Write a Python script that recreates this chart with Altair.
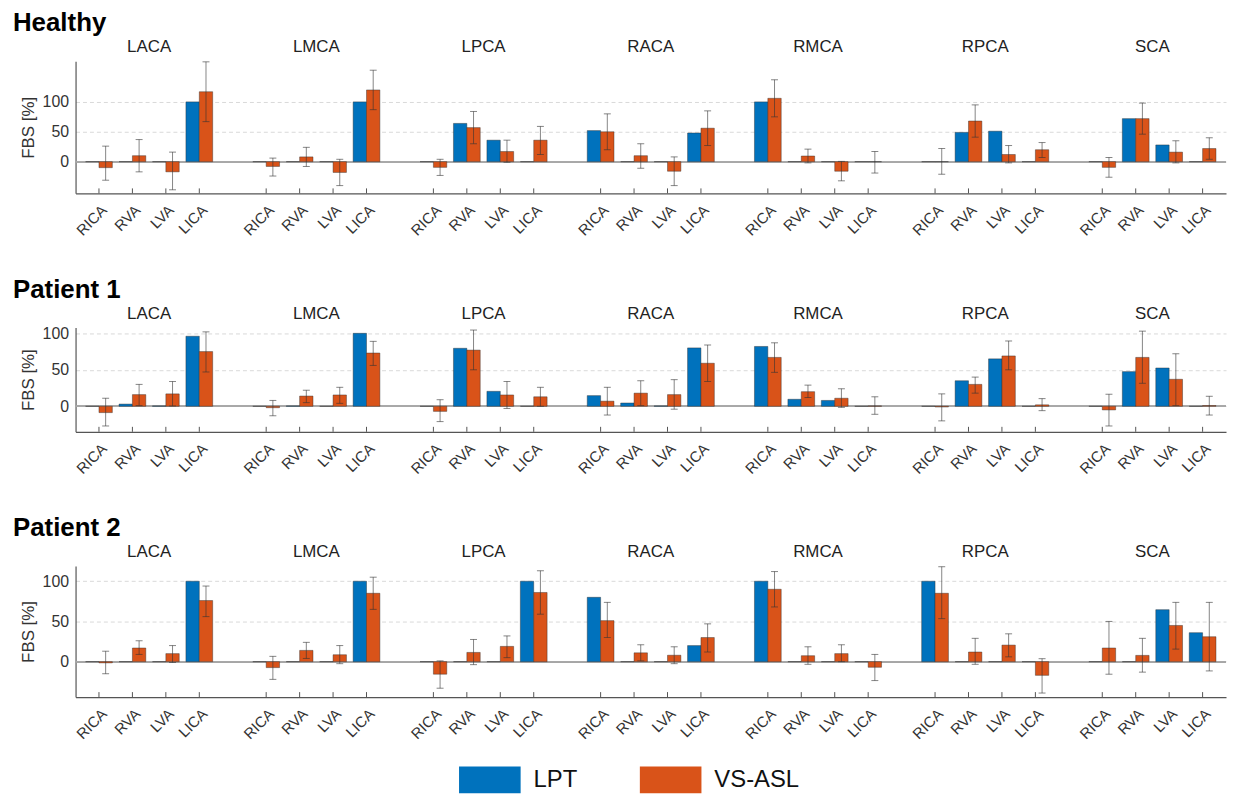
import altair as alt
import pandas as pd

territories = ["LACA", "LMCA", "LPCA", "RACA", "RMCA", "RPCA", "SCA"]
vessels = ["RICA", "RVA", "LVA", "LICA"]
series = ["LPT", "VS-ASL"]
colors = ["#0072BD", "#D95319"]

# values ordered territory by territory, vessels RICA, RVA, LVA, LICA
healthy_lpt = [0, 0, 0, 100, 0, 0, 0, 100, 0, 64, 36, 0, 52, 0, 0, 48,
               100, 0, 0, 0, 0, 49, 51, 0, 0, 72, 28, 0]
healthy_asl = [-10, 10, -17, 117, -8, 8, -18, 120, -9.5, 57, 17, 36, 50, 10, -16, 56,
               106, 9.5, -16, 0, 0, 68, 12, 20, -9.5, 72, 16, 22]
healthy_lo = [-31, -17, -47, 67, -24, -8, -40, 87, -23, 30, -1, 12, 20, -11, -40, 27,
              75, -2, -32, -19, -21, 41, -2, 7, -26, 46, -2, 4]
healthy_hi = [26, 37, 16, 167, 6, 24, 4, 153, 4, 84, 36, 59, 80, 30, 8, 85,
              137, 21, 0.5, 17, 22, 95, 27, 32, 7, 98, 35, 40]

p1_lpt = [0, 3, 0.5, 96, 0, 0.5, 0, 100, 0, 79.5, 20.5, 0, 14.6, 4.5, 0.5, 80,
          82, 9.6, 8, 0, 0, 35, 65, 0, 0, 47.5, 52.5, 0]
p1_asl = [-8.7, 16, 17, 75, -2, 14, 15.5, 73, -7, 77, 15.5, 13, 7, 18, 16, 59,
          67, 20, 11, 0.5, -1, 30, 69, 2, -5, 67, 37, 1]
p1_lo = [-27, 1, 0.5, 47, -13, 5, 4, 56, -21, 50, -3, 0, -12, 1, -4, 34,
         46.5, 12, -1.5, -11, -20, 18, 50, -6, -27, 31.5, 1, -12]
p1_hi = [11, 30, 34, 102, 8, 22, 26, 89, 9, 104.5, 34, 26, 26, 35, 36.5, 84,
         87, 29, 24, 13, 17, 40, 89.5, 10.5, 16.5, 103, 72, 13.7]

p2_lpt = [0, 0, 0, 100, 0, 0, 0, 100, 0, 0, 0, 100, 80, 0, 0, 20,
          100, 0, 0, 0, 100, 0, 0, 0, 0, 0, 64.6, 36]
p2_asl = [-1.5, 17, 10, 76, -7.4, 14, 8.6, 85, -15.6, 11.5, 19, 86, 51, 11, 8, 30,
          90, 7.4, 10, -7, 85, 12, 20.6, -17, 17, 7.8, 45, 31]
p2_lo = [-15, 9, -1, 56, -22, 4, -2.5, 65, -33, -3.7, 5, 59, 30, 1, -2.5, 12,
         68, -3.3, 0, -23.5, 53.5, -3.3, 6, -39, -15.6, -13, 15.6, -11.5]
p2_hi = [13, 26, 20, 94, 6.6, 24, 20, 105, 1, 27.6, 32, 113, 73.7, 21, 18.5, 47,
         112, 18.5, 21, 9, 118, 29, 34.6, 3.7, 50, 29, 73.7, 73.7]

rows = [
    ("Healthy", healthy_lpt, healthy_asl, healthy_lo, healthy_hi, [-53, 168], 133),
    ("Patient 1", p1_lpt, p1_asl, p1_lo, p1_hi, [-35, 108], 105),
    ("Patient 2", p2_lpt, p2_asl, p2_lo, p2_hi, [-44, 119], 132),
]

FONT = "Liberation Sans"
W = 1158
BAR = 0.4
label_expr = "[" + ",".join("'%s'" % v for v in vessels) + ",''][datum.value % 5]"
tick_positions = [ti * 5 + vi for ti in range(len(territories)) for vi in range(len(vessels))]

legend = alt.Legend(
    orient="none", legendX=386, legendY=184, direction="horizontal", title=None,
    symbolType="M-1,-0.435H1V0.435H-1Z", symbolSize=3844, symbolStrokeWidth=0,
    symbolOpacity=1, labelFontSize=24, labelFont=FONT, labelColor="#111",
    labelOffset=13, columnPadding=62,
)


def make_row(name, lpt, asl, lo, hi, dom, h, with_legend):
    bars, errs, ticks = [], [], []
    for ti, t in enumerate(territories):
        for vi, v in enumerate(vessels):
            k = ti * len(vessels) + vi
            pos = ti * 5 + vi
            bars.append(dict(series=series[0], value=lpt[k], x0=pos - BAR, x1=pos, zero=0))
            bars.append(dict(series=series[1], value=asl[k], x0=pos, x1=pos + BAR, zero=0))
            errs.append(dict(xc=pos + BAR / 2, lo=lo[k], hi=hi[k]))
            ticks.append(dict(pos=pos))
    bars = pd.DataFrame(bars)
    errs = pd.DataFrame(errs)
    ticks = pd.DataFrame(ticks)
    heads = pd.DataFrame(dict(territory=territories,
                              center=[ti * 5 + 1.5 for ti in range(len(territories))]))

    xs = alt.Scale(domain=[-0.7, 33.7], nice=False, zero=False)
    ys = alt.Scale(domain=dom, nice=False, zero=False)
    xaxis = alt.Axis(values=tick_positions, labelExpr=label_expr, labelAngle=315,
                     labelAlign="right", labelBaseline="top", labelPadding=9,
                     labelOverlap=False, labelBound=False,
                     ticks=False, grid=False, domainColor="#555", domainWidth=1.2,
                     labelFont=FONT, labelFontSize=15, labelColor="#333", title=None)
    yaxis = alt.Axis(values=[0, 50, 100], ticks=False, grid=True, gridDash=[4, 3],
                     gridColor="#d9d9d9", domainColor="#555", domainWidth=1.2,
                     labelFont=FONT, labelFontSize=16, labelColor="#333", labelPadding=7,
                     title="FBS [%]", titleFont=FONT, titleFontSize=17,
                     titleFontWeight="normal", titleColor="#333", titlePadding=5)

    color_kwargs = dict(scale=alt.Scale(domain=series, range=colors))
    color_kwargs["legend"] = legend if with_legend else None

    base_bars = alt.Chart(bars).mark_bar(stroke="#2b2b2b", strokeWidth=0.7,
                                         strokeOpacity=0.6).encode(
        x=alt.X("x0:Q", scale=xs, axis=xaxis),
        x2="x1:Q",
        y=alt.Y("value:Q", scale=ys, axis=yaxis),
        y2="zero:Q",
        color=alt.Color("series:N", **color_kwargs),
    )
    zero_rule = alt.Chart(bars).mark_rule(color="#a8a8a8", strokeWidth=1).encode(
        y=alt.datum(0, scale=ys))
    inner_ticks = alt.Chart(ticks).mark_rule(color="#555", strokeWidth=1).encode(
        x=alt.X("pos:Q", scale=xs), y=alt.value(h), y2=alt.value(h - 5))
    err_rule = alt.Chart(errs).mark_rule(color="#333", strokeWidth=1, opacity=0.6).encode(
        x=alt.X("xc:Q", scale=xs), y=alt.Y("lo:Q", scale=ys), y2="hi:Q")
    cap_lo = alt.Chart(errs).mark_tick(color="#333", size=7, thickness=1, orient="horizontal",
                                       opacity=0.6).encode(
        x=alt.X("xc:Q", scale=xs), y=alt.Y("lo:Q", scale=ys))
    cap_hi = alt.Chart(errs).mark_tick(color="#333", size=7, thickness=1, orient="horizontal",
                                       opacity=0.6).encode(
        x=alt.X("xc:Q", scale=xs), y=alt.Y("hi:Q", scale=ys))
    head_text = alt.Chart(heads).mark_text(font=FONT, fontSize=17, color="#222",
                                           baseline="middle").encode(
        x=alt.X("center:Q", scale=xs), y=alt.value(-14), text="territory:N")

    return alt.layer(zero_rule, base_bars, inner_ticks, err_rule, cap_lo, cap_hi,
                     head_text).properties(
        width=W, height=h,
        title=alt.Title(name, anchor="start", frame="group", dx=-63, fontSize=26,
                        fontWeight="bold", font=FONT, color="#000", offset=2),
    )


panels = [make_row(*r, with_legend=(i == len(rows) - 1)) for i, r in enumerate(rows)]
chart = alt.vconcat(*panels, spacing=39).resolve_legend(color="independent").properties(
    padding={"left": 5, "top": 0, "right": 0, "bottom": 0}
).configure_view(stroke=None).configure_scale(barBandPaddingInner=0)

chart.save("out.html", embed_options={"renderer": "svg", "actions": False})
